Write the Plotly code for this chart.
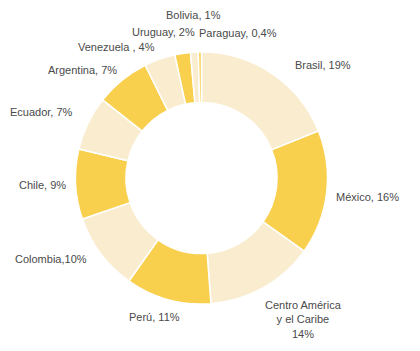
import plotly.graph_objects as go

W, H = 420, 351

countries = ["Brasil", "México", "Centro América y el Caribe", "Perú", "Colombia",
             "Chile", "Ecuador", "Argentina", "Venezuela", "Uruguay", "Bolivia", "Paraguay"]
shares = [19, 16, 14, 11, 10, 9, 7, 7, 4, 2, 1, 0.4]
label_texts = ["Brasil, 19%", "México, 16%", "Centro América<br>y el Caribe<br>14%", "Perú, 11%",
               "Colombia,10%", "Chile, 9%", "Ecuador, 7%", "Argentina, 7%", "Venezuela , 4%",
               "Uruguay, 2%", "Bolivia, 1%", "Paraguay, 0,4%"]

YELLOW = "#F9CF4E"
CREAM = "#FAEDCF"
colors = [CREAM if i % 2 == 0 else YELLOW for i in range(len(countries))]

# label centre positions in pixels (x, y from top)
label_pos = [(323, 65), (367, 197), (303, 319), (154, 317), (51, 259), (42, 185),
             (41, 112), (82, 70), (116, 47), (163, 32), (193, 15), (238, 33)]

cx, cy, r = 201.5, 178, 126
fig = go.Figure(go.Pie(
    labels=countries, values=shares, sort=False, direction="clockwise", rotation=0,
    hole=0.6, textinfo="none", hoverinfo="label+value",
    marker=dict(colors=colors, line=dict(color="white", width=1.5)),
    domain=dict(x=[(cx - r) / W, (cx + r) / W], y=[(H - cy - r) / H, (H - cy + r) / H]),
    showlegend=False,
))

for t, (px, py) in zip(label_texts, label_pos):
    fig.add_annotation(x=px / W, y=1 - py / H, xref="paper", yref="paper", text=t,
                       showarrow=False, xanchor="center", yanchor="middle",
                       font=dict(family="Liberation Sans, Arial, sans-serif", size=11, color="#4a4a4a"))

fig.update_layout(width=W, height=H, margin=dict(l=0, r=0, t=0, b=0),
                  paper_bgcolor="white", plot_bgcolor="white")
fig.write_html("out.html")
